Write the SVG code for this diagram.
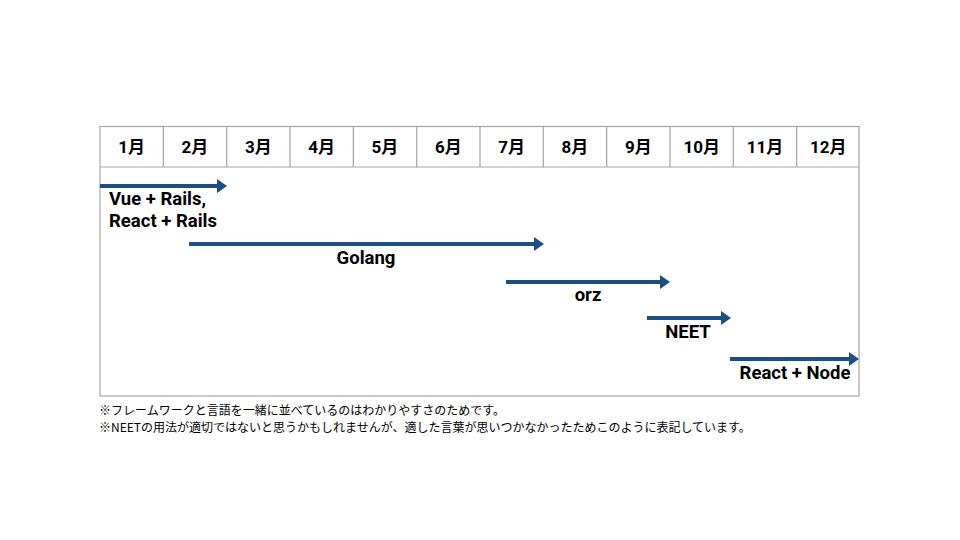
<svg xmlns="http://www.w3.org/2000/svg" width="960" height="540" viewBox="0 0 960 540">
<style>
.grid{fill:none;stroke:#a6a6a6;stroke-width:1.2}
.hd{font-family:Roboto,"Noto Sans CJK JP",sans-serif;font-weight:bold;font-size:17px;fill:#000;text-anchor:middle}
.lb{font-family:Roboto,"Noto Sans CJK JP",sans-serif;font-weight:bold;font-size:18.5px;fill:#000}
.ar{stroke:#1b4f83;stroke-width:4;fill:none}
.note{font-family:"Noto Sans CJK JP",sans-serif;font-size:12px;fill:#000}
</style>
<defs>
<marker id="ah" markerUnits="userSpaceOnUse" markerWidth="10" markerHeight="14" refX="0" refY="7" orient="auto" viewBox="0 0 10 14">
<path d="M0,0 L10,7 L0,14 Z" fill="#1b4f83"/>
</marker>
</defs>
<rect width="960" height="540" fill="#fff"/>
<g id="table">
<rect class="grid" x="100" y="126.5" width="759" height="269.5"/>
<line class="grid" x1="100" y1="167" x2="859" y2="167"/>
<path class="grid" d="M163.3,126.5V167M226.7,126.5V167M290,126.5V167M353.3,126.5V167M416.7,126.5V167M480,126.5V167M543.3,126.5V167M606.7,126.5V167M670,126.5V167M733.3,126.5V167M796.7,126.5V167"/>
<text class="hd" x="131.7" y="153">1月</text>
<text class="hd" x="195" y="153">2月</text>
<text class="hd" x="258.3" y="153">3月</text>
<text class="hd" x="321.7" y="153">4月</text>
<text class="hd" x="385" y="153">5月</text>
<text class="hd" x="448.3" y="153">6月</text>
<text class="hd" x="511.7" y="153">7月</text>
<text class="hd" x="575" y="153">8月</text>
<text class="hd" x="638.3" y="153">9月</text>
<text class="hd" x="701.7" y="153">10月</text>
<text class="hd" x="765" y="153">11月</text>
<text class="hd" x="828.3" y="153">12月</text>
</g>
<g id="connectors">
<line class="ar" x1="100" y1="186" x2="217" y2="186" marker-end="url(#ah)"/>
<line class="ar" x1="189" y1="244" x2="534" y2="244" marker-end="url(#ah)"/>
<line class="ar" x1="506" y1="282" x2="660" y2="282" marker-end="url(#ah)"/>
<line class="ar" x1="647" y1="318" x2="721" y2="318" marker-end="url(#ah)"/>
<line class="ar" x1="730" y1="359" x2="849" y2="359" marker-end="url(#ah)"/>
</g>
<g id="vue-rails">
<text class="lb" x="109" y="205">Vue + Rails,</text>
<text class="lb" x="109" y="227">React + Rails</text>
</g>
<g id="golang"><text class="lb" x="366" y="264" text-anchor="middle">Golang</text></g>
<g id="orz"><text class="lb" x="588" y="301" text-anchor="middle">orz</text></g>
<g id="neet"><text class="lb" x="688" y="338" text-anchor="middle">NEET</text></g>
<g id="react-node"><text class="lb" x="795" y="379" text-anchor="middle">React + Node</text></g>
<g id="notes">
<text class="note" x="99" y="415">※フレームワークと言語を一緒に並べているのはわかりやすさのためです。</text>
<text class="note" x="99" y="432">※NEETの用法が適切ではないと思うかもしれませんが、適した言葉が思いつかなかったためこのように表記しています。</text>
</g>
</svg>
